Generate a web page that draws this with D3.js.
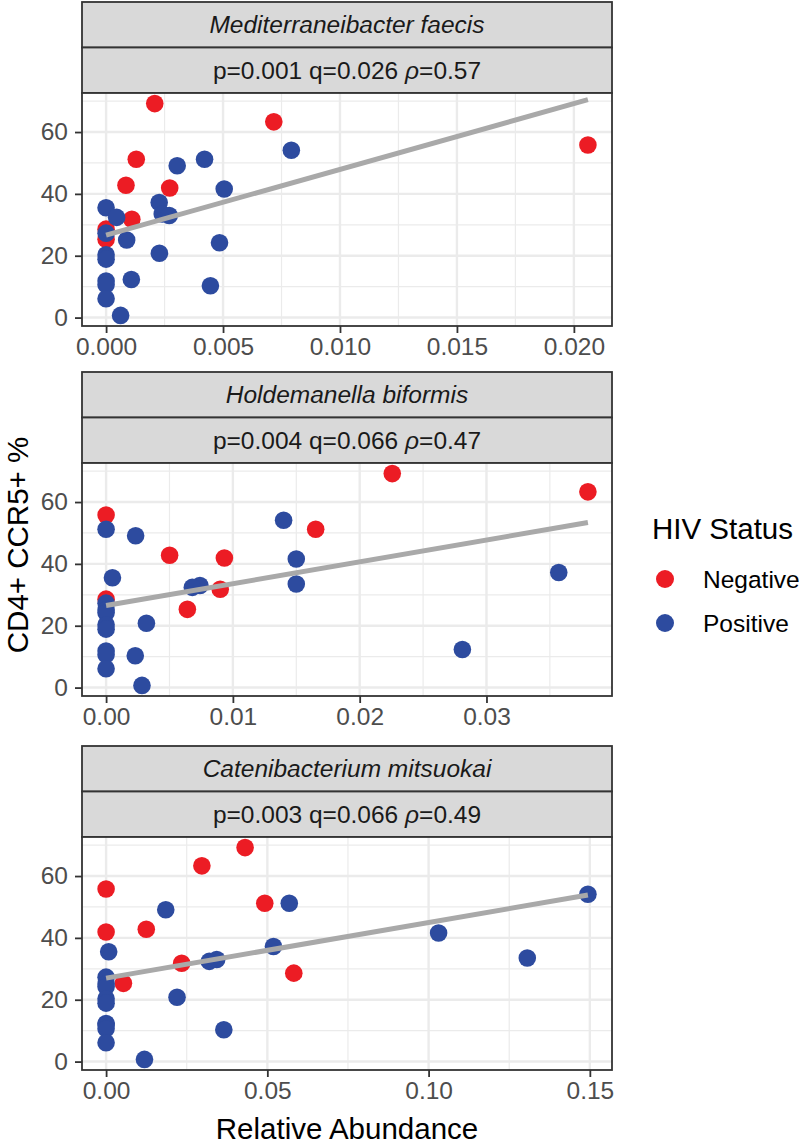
<!DOCTYPE html>
<html>
<head>
<meta charset="utf-8">
<script src="https://cdn.jsdelivr.net/npm/d3@7"></script>
<style>
  html, body { margin: 0; padding: 0; background: #ffffff; }
  svg { display: block; }
</style>
</head>
<body>
<svg id="chart" width="800" height="1145"></svg>
<script>
// ---------- DATA ----------
const statusLevels = ["Negative", "Positive"];
const statusColors = ["#EC1C24", "#2D4B9F"];

// One entry per subject (same subjects in every panel)
const hivStatus = [
  "Negative","Negative","Negative","Negative","Negative","Negative","Negative","Negative","Negative",
  "Positive","Positive","Positive","Positive","Positive","Positive","Positive","Positive","Positive","Positive",
  "Positive","Positive","Positive","Positive","Positive","Positive","Positive","Positive","Positive","Positive","Positive"
];
const cd4ccr5 = [
  69.2, 63.3, 55.8, 51.2, 42.8, 41.9, 31.8, 28.6, 25.3,
  54.1, 51.2, 49.1, 41.6, 37.2, 35.5, 33.5, 33.0, 32.4, 27.3,
  25.1, 24.2, 20.8, 20.3, 18.9, 12.3, 11.8, 10.6, 10.3, 6.1, 0.7
];
const abundMediterraneibacter = [
  0.00208, 0.00717, 0.0206, 0.00129, 0.00085, 0.00272, 0.0011, 0, 0,
  0.00792, 0.00421, 0.00304, 0.00505, 0.00227, 0, 0.0024, 0.0027, 0.00045, 0,
  0.00088, 0.00485, 0.00228, 0, 0, 0.00108, 0, 0, 0.00446, 0, 0.00062
];
const abundHoldemanella = [
  0.02257, 0.0380, 0, 0.01653, 0.00501, 0.00933, 0.0090, 0, 0.00641,
  0.0140, 0, 0.00233, 0.0150, 0.0357, 0.0005, 0.0150, 0.0074, 0.0068, 0,
  0, 0, 0.00318, 0, 0, 0.0281, 0, 0, 0.0023, 0, 0.00283
];
const abundCatenibacterium = [
  0.0431, 0.0297, 0, 0.0492, 0.01246, 0, 0.02344, 0.0582, 0.00537,
  0.1494, 0.0568, 0.0185, 0.1031, 0.0519, 0.0008, 0.1306, 0.0343, 0.032, 0,
  0, 0, 0.022, 0, 0, 0, 0, 0, 0.0365, 0, 0.0119
];

const speciesNames = ["Mediterraneibacter faecis", "Holdemanella biformis", "Catenibacterium mitsuokai"];
const pValues = ["0.001", "0.004", "0.003"];
const qValues = ["0.026", "0.066", "0.066"];
const rhoValues = ["0.57", "0.47", "0.49"];

const xTicks1 = [0, 0.005, 0.010, 0.015, 0.020];
const xTicks2 = [0, 0.01, 0.02, 0.03];
const xTicks3 = [0, 0.05, 0.10, 0.15];
const xMinor1 = [0.0025, 0.0075, 0.0125, 0.0175];
const xMinor2 = [0.005, 0.015, 0.025, 0.035];
const xMinor3 = [0.025, 0.075, 0.125];
const xTickFormats = [".3f", ".2f", ".2f"];
const yTicks = [0, 20, 40, 60];
const yMinor = [10, 30, 50, 70];

const xTitle = "Relative Abundance";
const yTitle = "CD4+ CCR5+ %";
const legendTitle = "HIV Status";

// ---------- LAYOUT ----------
const svg = d3.select("#chart");
const left = 82, right = 612;
const plotTops = [93, 463, 837];
const plotH = 233;
const stripH = 45.5;
const font = "'Liberation Sans', Arial, Helvetica, sans-serif";
const smallSize = 24.5, bigSize = 29.5;

const panels = [
  { x: abundMediterraneibacter, ticks: xTicks1, minor: xMinor1 },
  { x: abundHoldemanella, ticks: xTicks2, minor: xMinor2 },
  { x: abundCatenibacterium, ticks: xTicks3, minor: xMinor3 }
];

const color = d3.scaleOrdinal().domain(statusLevels).range(statusColors);

function expand(ext) {
  const r = ext[1] - ext[0];
  return [ext[0] - 0.05 * r, ext[1] + 0.05 * r];
}
const yDomain = expand(d3.extent(cd4ccr5));

panels.forEach((p, i) => {
  const top = plotTops[i];
  const bottom = top + plotH;
  const g = svg.append("g");
  const xs = d3.scaleLinear().domain(expand(d3.extent(p.x))).range([left, right]);
  const ys = d3.scaleLinear().domain(yDomain).range([bottom, top]);

  // strips
  const s1 = top - 2 * stripH, s2 = top - stripH;
  [s1, s2].forEach(sy => {
    g.append("rect").attr("x", left).attr("y", sy).attr("width", right - left).attr("height", stripH)
      .attr("fill", "#D9D9D9").attr("stroke", "#333333").attr("stroke-width", 1.8);
  });
  g.append("text").attr("x", (left + right) / 2).attr("y", s1 + stripH / 2 + 8.5)
    .attr("text-anchor", "middle").attr("font-family", font).attr("font-size", smallSize)
    .attr("font-style", "italic").attr("fill", "#1A1A1A").text(speciesNames[i]);
  const st = g.append("text").attr("x", (left + right) / 2).attr("y", s2 + stripH / 2 + 8.5)
    .attr("text-anchor", "middle").attr("font-family", font).attr("font-size", smallSize).attr("fill", "#1A1A1A");
  st.append("tspan").text(`p=${pValues[i]} q=${qValues[i]} `);
  st.append("tspan").attr("font-style", "italic").text("ρ");
  st.append("tspan").text(`=${rhoValues[i]}`);

  // panel background
  g.append("rect").attr("x", left).attr("y", top).attr("width", right - left).attr("height", plotH).attr("fill", "#ffffff");

  // grid
  const grid = g.append("g");
  yMinor.filter(v => v >= yDomain[0] && v <= yDomain[1]).forEach(v => {
    grid.append("line").attr("x1", left).attr("x2", right).attr("y1", ys(v)).attr("y2", ys(v))
      .attr("stroke", "#EBEBEB").attr("stroke-width", 1.2);
  });
  const xd = xs.domain();
  p.minor.filter(v => v >= xd[0] && v <= xd[1]).forEach(v => {
    grid.append("line").attr("y1", top).attr("y2", bottom).attr("x1", xs(v)).attr("x2", xs(v))
      .attr("stroke", "#EBEBEB").attr("stroke-width", 1.2);
  });
  yTicks.forEach(v => {
    grid.append("line").attr("x1", left).attr("x2", right).attr("y1", ys(v)).attr("y2", ys(v))
      .attr("stroke", "#EBEBEB").attr("stroke-width", 2.4);
  });
  p.ticks.forEach(v => {
    grid.append("line").attr("y1", top).attr("y2", bottom).attr("x1", xs(v)).attr("x2", xs(v))
      .attr("stroke", "#EBEBEB").attr("stroke-width", 2.4);
  });

  // points
  const pts = cd4ccr5.map((y, k) => ({ x: p.x[k], y, s: hivStatus[k] }));
  g.append("g").selectAll("circle").data(pts).join("circle")
    .attr("cx", d => xs(d.x)).attr("cy", d => ys(d.y)).attr("r", 8.8)
    .attr("fill", d => color(d.s));

  // linear regression line
  const mx = d3.mean(pts, d => d.x), my = d3.mean(pts, d => d.y);
  const sxy = d3.sum(pts, d => (d.x - mx) * (d.y - my));
  const sxx = d3.sum(pts, d => (d.x - mx) * (d.x - mx));
  const slope = sxy / sxx, icpt = my - slope * mx;
  const ext = d3.extent(p.x);
  g.append("line").attr("x1", xs(ext[0])).attr("y1", ys(icpt + slope * ext[0]))
    .attr("x2", xs(ext[1])).attr("y2", ys(icpt + slope * ext[1]))
    .attr("stroke", "#A9A9A9").attr("stroke-width", 5);

  // border
  g.append("rect").attr("x", left).attr("y", top).attr("width", right - left).attr("height", plotH)
    .attr("fill", "none").attr("stroke", "#333333").attr("stroke-width", 1.8);

  // axes
  const xAxis = d3.axisBottom(xs).tickValues(p.ticks).tickFormat(d3.format(xTickFormats[i]))
    .tickSizeInner(7).tickSizeOuter(0).tickPadding(5);
  const xa = g.append("g").attr("transform", `translate(0,${bottom})`).call(xAxis);
  xa.select(".domain").remove();
  xa.selectAll(".tick line").attr("stroke", "#333333").attr("stroke-width", 1.8);
  xa.selectAll(".tick text").attr("font-family", font).attr("font-size", smallSize).attr("fill", "#4D4D4D");

  const yAxis = d3.axisLeft(ys).tickValues(yTicks).tickFormat(d3.format("d"))
    .tickSizeInner(7).tickSizeOuter(0).tickPadding(7);
  const ya = g.append("g").attr("transform", `translate(${left},0)`).call(yAxis);
  ya.select(".domain").remove();
  ya.selectAll(".tick line").attr("stroke", "#333333").attr("stroke-width", 1.8);
  ya.selectAll(".tick text").attr("font-family", font).attr("font-size", smallSize).attr("fill", "#4D4D4D");
});

// axis titles
svg.append("text").attr("x", (left + right) / 2).attr("y", 1139)
  .attr("text-anchor", "middle").attr("font-family", font).attr("font-size", bigSize).attr("fill", "#000")
  .text(xTitle);
svg.append("text").attr("transform", "translate(28,545) rotate(-90)")
  .attr("text-anchor", "middle").attr("font-family", font).attr("font-size", bigSize).attr("fill", "#000")
  .text(yTitle);

// legend
const lg = svg.append("g");
lg.append("text").attr("x", 652).attr("y", 539).attr("font-family", font).attr("font-size", bigSize)
  .attr("fill", "#000").text(legendTitle);
statusLevels.forEach((s, k) => {
  const cy = 579 + k * 44;
  lg.append("circle").attr("cx", 665).attr("cy", cy).attr("r", 9).attr("fill", color(s));
  lg.append("text").attr("x", 703).attr("y", cy + 8.5).attr("font-family", font).attr("font-size", smallSize)
    .attr("fill", "#000").text(s);
});
</script>
</body>
</html>
